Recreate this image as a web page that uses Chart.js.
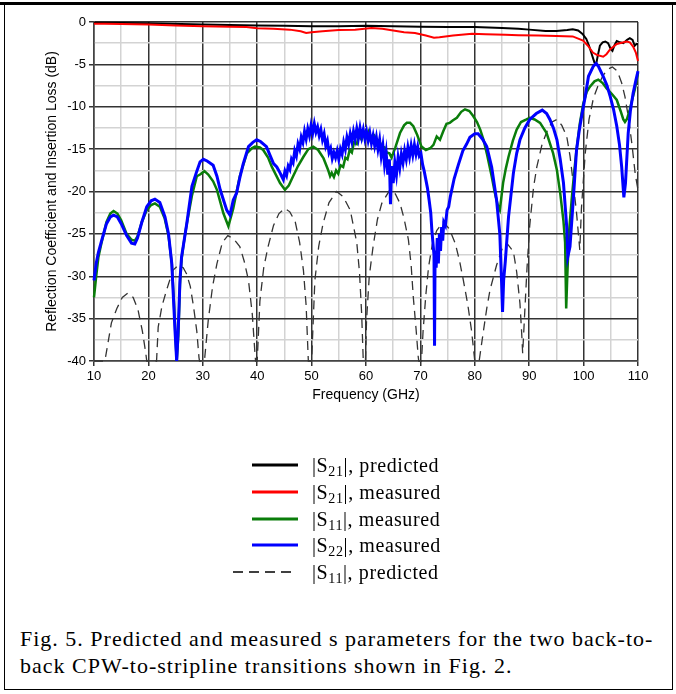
<!DOCTYPE html>
<html>
<head>
<meta charset="utf-8">
<script src="https://cdn.jsdelivr.net/npm/chart.js@4.4.0/dist/chart.umd.min.js"></script>
<style>
html,body{margin:0;padding:0;background:#fff;width:676px;height:694px;overflow:hidden;}
#wrap{position:relative;width:676px;height:694px;}
#topline{position:absolute;left:0;top:2px;width:676px;height:3px;background:#000;}
#box{position:absolute;left:4px;top:2px;width:667px;height:687px;border-left:1.5px solid #000;border-right:1.5px solid #000;border-bottom:1.5px solid #000;}
#chartbox{position:absolute;left:0;top:0;width:676px;height:410px;}
#legend{position:absolute;left:0;top:0;width:676px;height:600px;font-family:"Liberation Serif","Times New Roman",serif;font-size:20px;letter-spacing:0.6px;color:#000;}
.item{position:absolute;left:0;height:26px;width:676px;}
.item svg{position:absolute;left:230px;top:0;}
.item span{position:absolute;left:312px;top:0;line-height:26px;white-space:nowrap;}
.item sub{font-size:14px;vertical-align:-4px;line-height:0;}
#caption{position:absolute;left:20px;top:625px;font-family:"Liberation Serif","Times New Roman",serif;font-size:22px;letter-spacing:1px;line-height:27px;color:#000;white-space:nowrap;}
</style>
</head>
<body>
<div id="wrap">
  <div id="box"></div>
  <div id="topline"></div>
  <div id="chartbox"><canvas id="c" width="676" height="410"></canvas></div>
  <div id="legend"></div>
  <div id="caption">Fig. 5. Predicted and measured s parameters for the two back-to-<br>back CPW-to-stripline transitions shown in Fig. 2.</div>
</div>
<script>
// ---------- DATA ----------
const xTickValues = [10,15,20,25,30,35,40,45,50,55,60,65,70,75,80,85,90,95,100,105,110];
const yTickValues = [0,-2.5,-5,-7.5,-10,-12.5,-15,-17.5,-20,-22.5,-25,-27.5,-30,-32.5,-35,-37.5,-40];

const seriesLabels = ["|S21|, predicted","|S21|, measured","|S11|, measured","|S22|, measured","|S11|, predicted"];

// |S21| predicted (black)
const s21pFreq = [10,20,30,40,45,50,55,60,65,70,75,80,85,88,90,93,95,97,98,99,99.8,100.5,101,101.5,102,102.3,102.6,103,103.5,104,104.5,105,105.3,105.7,106.1,106.7,107.3,108,108.5,109,109.4,109.7,110];
const s21pVals = [-0.08,-0.15,-0.3,-0.4,-0.45,-0.5,-0.5,-0.45,-0.5,-0.55,-0.6,-0.6,-0.7,-0.8,-0.9,-1.05,-1.05,-0.95,-0.85,-1.0,-1.4,-2.0,-2.8,-3.8,-4.8,-5.0,-4.0,-2.8,-2.4,-2.3,-2.5,-3.2,-3.4,-2.7,-2.25,-2.4,-2.5,-2.1,-1.9,-2.1,-2.8,-2.6,-2.6];

// |S21| measured (red)
const s21mFreq = [10,12,15,20,25,30,35,38,40,43,46,48,49,50,52,55,58,61,63,65,67,69,71,72.5,73.5,74.6,76,79.5,82,85.6,88,91.7,95,98,99.9,100.8,101.7,102.5,103.6,104.2,104.9,106.1,107.9,108.5,109.1,109.6,110];
const s21mVals = [-0.2,-0.2,-0.25,-0.3,-0.4,-0.5,-0.55,-0.6,-0.75,-0.8,-0.9,-1.1,-1.3,-1.2,-1.1,-0.95,-0.9,-0.7,-0.8,-1.0,-1.2,-1.3,-1.6,-1.85,-1.8,-1.7,-1.6,-1.4,-1.45,-1.5,-1.55,-1.6,-1.65,-1.7,-2.2,-2.8,-3.6,-3.9,-4.1,-3.8,-3.2,-2.6,-2.3,-2.4,-2.9,-3.6,-4.6];

// |S11| measured (green)
const s11mFreq = [10,10.4,10.8,11.4,12.3,13,13.6,14.3,15,16,16.9,17.5,18,18.8,19.7,20.5,21.2,22.1,23,23.7,24.3,24.6,24.9,25.2,25.5,25.8,26.1,26.4,27,28,28.9,29.5,30.3,31,31.9,32.6,33.8,34.7,35.6,36.8,38.1,39,39.6,40.5,41.1,42,42.7,44.2,45.1,45.8,46.6,47.5,48.5,49.4,50.3,51.2,52.2,53,53.4,53.7,54.1,54.5,54.9,55.3,55.8,56.2,56.6,57,57.4,57.8,58.3,58.7,59.2,59.6,60.1,60.5,61,61.5,62,62.5,63,63.4,63.8,64.3,64.7,65.4,66.25,67,67.5,68.1,68.7,69.4,70.2,71,71.8,72.4,73,73.6,74.2,74.8,75.4,76,76.7,77.5,78.2,79,79.7,80.4,81,81.6,82.2,83.1,83.7,84.3,84.6,85.2,85.7,86.2,87,87.7,88.5,89.5,90.1,91,92,93.2,94.4,95.1,95.7,96.3,96.6,96.8,97,97.3,97.8,98.3,98.7,99.3,99.95,100.6,101.2,102,102.7,103.5,104.2,105.2,106.1,106.8,107.3,107.6,108,108.5,109,109.4,110];
const s11mVals = [-32.5,-30,-27.8,-26,-23.6,-22.6,-22.3,-22.6,-23.4,-25,-25.7,-25.8,-25.3,-23.6,-22.2,-21.6,-21.4,-21.8,-23.2,-25.2,-28.5,-32,-36,-40,-37,-31,-28,-26.5,-24,-20.5,-18.2,-18,-17.6,-18,-18.8,-19.8,-22.6,-24.1,-22,-18.2,-15.5,-14.9,-14.7,-14.8,-15.1,-16,-17.1,-19,-19.8,-19.3,-18.2,-17,-15.9,-15,-14.7,-15.1,-16.1,-17.4,-18.2,-17.8,-18.3,-17.5,-17.9,-16.9,-17.1,-16,-16.2,-15.1,-15.4,-14.2,-14.4,-13.4,-13.9,-13,-13.5,-12.9,-13.7,-13.4,-14.2,-14.1,-14.9,-14.8,-15.4,-15.5,-16,-14.8,-13.1,-12.2,-11.9,-11.9,-12.3,-13.3,-14.7,-15.1,-14.9,-14.5,-13.5,-13.9,-12.9,-12,-11.9,-11.6,-11.3,-10.6,-10.3,-10.5,-11.1,-11.8,-12.7,-13.9,-15.5,-18.2,-20.2,-21.8,-22.2,-19,-17.3,-15.9,-14,-12.7,-11.8,-11.5,-11.3,-11.5,-11.9,-13.1,-15.5,-17.5,-20.2,-23.5,-26,-33.8,-30,-25,-21,-17.5,-15.1,-12,-9.6,-8.2,-7.6,-7,-6.8,-7.2,-7.8,-8.5,-9.2,-10.5,-11.5,-11.8,-11.4,-10.3,-9,-8,-6];

// |S22| measured (blue)
const s22mFreq = [10,10.4,10.8,11.4,12.3,13,13.6,14.3,15,16,16.9,17.5,18,18.8,19.7,20.5,21.2,22.1,23.05,23.7,24.3,24.6,24.9,25.2,25.5,25.8,26.1,26.4,27.05,28,28.9,29.5,30.1,30.8,31.9,32.6,33.2,33.8,34.4,35,35.6,36.2,36.8,37.4,38.4,39.2,39.9,40.6,41.7,42.4,43,43.6,44.2,44.5,44.8,45.1,45.4,45.7,46,46.3,46.6,46.9,47.2,47.5,47.8,48.1,48.4,48.7,49,49.3,49.6,49.9,50.2,50.5,50.8,51.1,51.4,51.7,52,52.3,52.6,52.9,53.2,53.5,53.8,54.1,54.4,54.7,55,55.3,55.6,55.9,56.2,56.5,56.8,57.1,57.4,57.7,58,58.3,58.6,58.9,59.2,59.5,59.8,60.1,60.4,60.7,61,61.3,61.6,61.9,62.2,62.5,62.8,63.1,63.4,63.7,64,64.3,64.5,64.7,65,65.3,65.6,65.9,66.2,66.5,66.8,67.1,67.4,67.7,68,68.3,68.6,68.9,69.2,69.5,69.8,70.1,70.4,70.7,71,71.3,71.6,71.9,72.1,72.3,72.5,72.6,72.7,72.9,73.1,73.3,73.5,73.7,73.9,74.1,74.3,74.6,74.9,75.2,75.5,76.2,77,77.8,78.5,79.1,80,80.6,81.4,82.2,83.1,84,84.6,84.9,85.1,85.3,85.6,86.2,87.1,87.7,88.3,89.2,90.1,91.3,92.4,93.2,93.8,94.5,95.1,95.7,96.3,96.9,97.1,97.5,98.1,98.7,99.2,99.65,100.3,100.9,101.8,102.3,102.7,103.6,104.3,104.9,105.5,106.1,106.6,107,107.4,107.7,108.2,108.6,109.1,109.6,110];
const s22mVals = [-30.5,-28.5,-27.2,-25.8,-23.8,-23,-22.8,-23,-23.8,-25.2,-26.1,-26.2,-25.5,-23.6,-21.8,-21.1,-20.9,-21.3,-23,-25,-28.5,-32.5,-36.5,-40,-36,-30.5,-27.7,-26.5,-23.8,-19.4,-17.6,-16.5,-16.2,-16.4,-16.9,-18.2,-19.8,-21,-22.2,-22.8,-21,-20.2,-18.4,-16.8,-14.7,-14.2,-13.9,-14.1,-14.7,-15.8,-16.7,-17.1,-17.8,-18.2,-18.6,-17.6,-18.1,-17,-17.4,-16.2,-16.6,-15.2,-15.8,-14.4,-15,-13.6,-14.2,-12.9,-13.8,-12.6,-13.4,-12.2,-13.1,-12,-13,-12.4,-13.4,-12.7,-13.9,-13.2,-14.6,-14,-15.4,-14.9,-16.1,-15.4,-16,-15.2,-16.2,-15,-15.6,-14.2,-15,-13.6,-14.4,-13.2,-14.1,-12.9,-13.8,-12.6,-13.7,-12.5,-13.6,-12.7,-13.8,-12.9,-14,-13.1,-14.3,-13.4,-14.6,-13.6,-15,-13.9,-15.8,-14.6,-16.8,-15.4,-18,-16.2,-21.5,-17,-19,-16.6,-18,-16,-17.2,-15.6,-16.6,-15.2,-16.2,-14.8,-15.9,-14.6,-15.7,-14.5,-15.6,-14.7,-15.8,-15.5,-16.8,-17.6,-18.6,-19.6,-21,-22.5,-24.5,-26,-27.5,-38.2,-27,-29,-25.5,-28.5,-25,-27,-24.2,-25.8,-23.6,-24,-22.2,-21.8,-20.6,-18.5,-16.8,-15.2,-14.4,-13.6,-13.2,-13.2,-13.8,-14.7,-17.1,-21,-25,-30.3,-34.2,-30.5,-28.3,-23,-17.8,-15.5,-13.9,-12.5,-11.5,-10.8,-10.4,-10.8,-11.5,-12.6,-13.9,-16.2,-19,-24.2,-27.7,-26.5,-21,-15.1,-12.8,-11.1,-8.8,-6.4,-5.2,-4.9,-5.2,-6.4,-7.5,-8.8,-10.3,-12.3,-14.5,-17.1,-20.7,-19,-13.1,-10.5,-8.4,-6.9,-5.8];

// |S11| predicted (dashed)
const s11pFreq = [10,12,12.4,13.2,14.2,15.2,16.2,17.2,18.1,18.9,19.5,19.7,21.5,21.8,22.5,23.4,24.5,25.5,26.4,27,27.7,28.3,28.9,29.3,29.4,30.3,31,31.8,32.6,33.6,34.6,35.7,36.8,37.6,38.4,39.1,39.6,39.7,40,40.5,41.2,42,43,44,45.1,46,47,47.8,48.5,49,49.4,50,50.6,51.3,52.1,53.2,54.6,55.8,57.1,58.3,58.8,59.2,59.5,59.9,60.1,60.6,61.3,62.1,62.9,64.4,65.4,66.25,67,67.8,68.3,68.7,69.2,69.6,69.7,70.2,70.5,71,71.5,72.2,73,74.2,75.3,76.4,77.2,77.9,78.7,79.4,80,80.8,81.6,82.2,82.8,84,85,85.9,87.1,87.7,88.3,88.6,88.8,89.2,89.6,90.1,90.8,91.4,92.3,93.2,94.2,95.1,96,96.9,97.5,98.1,98.7,99.3,99.6,100.3,101,101.8,102.6,103.5,104.4,105.3,106.2,107,107.6,108.3,108.9,109.5,110];
const s11pVals = [-40,-40,-38.5,-35.5,-33.8,-32.5,-32,-32.5,-34,-36.5,-39,-40,-40,-36,-33.5,-31.5,-29.3,-28.7,-29,-29.7,-31.2,-33.6,-36.5,-39.6,-40,-40,-35.2,-31.2,-28.5,-26,-25.2,-25.6,-26.5,-28.2,-30.5,-34.5,-39.2,-40,-40,-32.9,-29,-26.5,-24,-22.6,-22,-22.4,-23.6,-26,-29.3,-33.5,-40,-40,-30.5,-26.5,-23.8,-21.3,-20,-20.6,-22.2,-26,-29.5,-34.4,-40,-40,-35.2,-30,-26.5,-23.3,-21.4,-19.8,-20.3,-21.4,-23.2,-25.7,-28.7,-32.5,-36.2,-39.5,-40,-40,-36.4,-32.2,-28.9,-26.2,-24.6,-23.6,-24.4,-26.1,-28.2,-30.5,-33.3,-36.4,-40,-40,-36.4,-33.8,-31.6,-28.7,-26.8,-26.1,-27.1,-29.5,-33.2,-36.5,-39.1,-34,-29,-24,-19.5,-17.1,-14.6,-13,-11.8,-11.5,-12.2,-13.5,-15.8,-19,-22.5,-26.9,-22,-15.5,-11.5,-9,-7.6,-6.4,-5.6,-5.3,-5.8,-7.2,-8.8,-11.5,-14.5,-18,-19.8];

// ---------- CHART ----------
function pts(f, v){ return f.map((x,i)=>({x:x, y:v[i]})); }

const tickFont = {family:"'Liberation Sans', Arial, sans-serif", size:13};
const titleFont = {family:"'Liberation Sans', Arial, sans-serif", size:14};
const isMajorX = v => Math.abs(v % 10) < 1e-6;
const isMajorY = v => Math.abs(v % 5) < 1e-6;

const datasets = [
  {label:seriesLabels[0], data:pts(s21pFreq,s21pVals), borderColor:'#000000', borderWidth:2, order:4},
  {label:seriesLabels[1], data:pts(s21mFreq,s21mVals), borderColor:'#ff0000', borderWidth:2, order:3},
  {label:seriesLabels[2], data:pts(s11mFreq,s11mVals), borderColor:'#0a7d0a', borderWidth:2.5, order:2},
  {label:seriesLabels[3], data:pts(s22mFreq,s22mVals), borderColor:'#0000ff', borderWidth:3, order:1},
  {label:seriesLabels[4], data:pts(s11pFreq,s11pVals), borderColor:'#333333', borderWidth:1.3, borderDash:[9,6], order:5}
];
datasets.forEach(d=>{ d.pointRadius=0; d.tension=0; d.fill=false; d.clip=4; });

const chart = new Chart(document.getElementById('c'), {
  type:'line',
  data:{datasets:datasets},
  options:{
    responsive:false, animation:false, devicePixelRatio:1,
    layout:{padding:{left:0, top:22, right:38, bottom:0}},
    plugins:{legend:{display:false}, tooltip:{enabled:false}},
    scales:{
      x:{
        type:'linear', min:10, max:110,
        afterBuildTicks: s => { s.ticks = xTickValues.map(v=>({value:v})); },
        afterFit: s => { s.height = 49; },
        ticks:{autoSkip:false, maxRotation:0, padding:3, color:'#000', font:tickFont,
               callback: v => isMajorX(v) ? String(v) : ''},
        grid:{lineWidth:1.5, tickLength:5,
              color: c => isMajorX(c.tick.value) ? '#333333' : '#d3d3d3',
              tickColor: c => isMajorX(c.tick.value) ? '#333333' : 'rgba(0,0,0,0)'},
        border:{display:true, color:'#444444', width:1.5},
        title:{display:true, text:'Frequency (GHz)', color:'#000', font:titleFont, padding:{top:0, bottom:6}}
      },
      y:{
        type:'linear', min:-40, max:0,
        afterBuildTicks: s => { s.ticks = yTickValues.map(v=>({value:v})); },
        afterFit: s => { s.width = 94; },
        ticks:{autoSkip:false, padding:3, color:'#000', font:tickFont,
               callback: v => isMajorY(v) ? String(v) : ''},
        grid:{lineWidth:1.5, tickLength:5,
              color: c => isMajorY(c.tick.value) ? '#333333' : '#d3d3d3',
              tickColor: c => isMajorY(c.tick.value) ? '#333333' : 'rgba(0,0,0,0)'},
        border:{display:true, color:'#444444', width:1.5},
        title:{display:true, text:'Reflection Coefficient and Insertion Loss (dB)', color:'#000', font:titleFont, padding:{top:44, bottom:0}}
      }
    }
  }
});

// ---------- HTML legend built from the datasets ----------
const legendCenters = [465, 492, 519, 545, 572];
const legend = document.getElementById('legend');
chart.data.datasets.forEach((d, i) => {
  const row = document.createElement('div');
  row.className = 'item';
  row.style.top = (legendCenters[i] - 13) + 'px';
  const dashed = !!d.borderDash;
  const x1 = dashed ? 3 : 22, x2 = dashed ? 62 : 68;
  row.innerHTML =
    '<svg width="80" height="26"><line x1="'+x1+'" y1="13" x2="'+x2+'" y2="13" stroke="'+(dashed?'#000':d.borderColor)+'" stroke-width="'+(dashed?1.3:3)+'"'+
    (dashed ? ' stroke-dasharray="10,6"' : '') + '/></svg>' +
    '<span>' + d.label.replace(/S(\d+)/, 'S<sub>$1</sub>') + '</span>';
  legend.appendChild(row);
});
</script>
</body>
</html>
